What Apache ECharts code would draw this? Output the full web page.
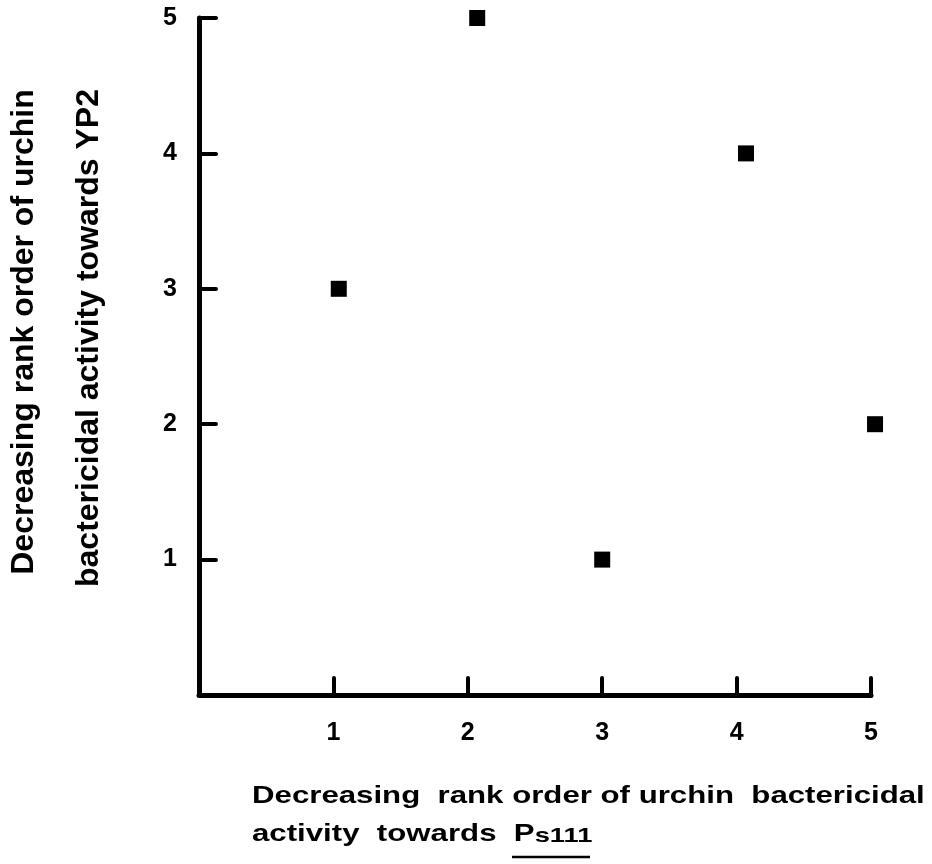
<!DOCTYPE html>
<html>
<head>
<meta charset="utf-8">
<script src="https://cdn.jsdelivr.net/npm/echarts@6/dist/echarts.min.js"></script>
<style>
html,body{margin:0;padding:0;background:#fff;}
#chart{width:932px;height:864px;}
</style>
</head>
<body>
<div id="chart"></div>
<script>
// Data
const rankPs111 = [1.04, 2.07, 3.0, 4.07, 5.03];   // x: rank towards Ps111
const rankYP2   = [3, 5, 1, 4, 2];                 // y: rank towards YP2
const tickValues = [1, 2, 3, 4, 5];
const yTitleLines = ['Decreasing rank order of urchin', 'bactericidal activity towards YP2'];
const xTitleLine1 = 'Decreasing  rank order of urchin  bactericidal';
const xTitleLine2 = 'activity  towards  ';

const points = rankPs111.map((x, i) => [x, rankYP2[i]]);

const chart = echarts.init(document.getElementById('chart'), null, {renderer: 'canvas'});

const axisCommon = {
  type: 'value',
  min: 0,
  max: 5,
  interval: 1,
  splitLine: {show: false},
  axisLine: {show: true, lineStyle: {color: '#000', width: 5, cap: 'round'}},
  axisTick: {show: true, inside: true, length: 17, lineStyle: {color: '#000', width: 4, cap: 'round'}},
  axisLabel: {
    color: '#000',
    fontFamily: 'Liberation Sans, Arial, sans-serif',
    fontWeight: 'bold',
    fontSize: 25,
    formatter: v => (tickValues.indexOf(v) >= 0 ? String(v) : '')
  }
};

const xFont = 'bold 24px "Liberation Sans", Arial, sans-serif';
const xScale = 1.30;

const option = {
  backgroundColor: '#fff',
  animation: false,
  grid: {left: 199, top: 18, right: 61, bottom: 169, containLabel: false},
  xAxis: Object.assign({}, axisCommon, {
    axisLabel: Object.assign({}, axisCommon.axisLabel, {margin: 26})
  }),
  yAxis: Object.assign({}, axisCommon, {
    axisLabel: Object.assign({}, axisCommon.axisLabel, {margin: 22})
  }),
  series: [{
    type: 'scatter',
    data: points,
    symbol: 'rect',
    symbolSize: 16,
    clip: false,
    itemStyle: {color: '#000', opacity: 1}
  }],
  graphic: [
    {
      type: 'text', x: 24, y: 332, rotation: Math.PI / 2,
      style: {text: yTitleLines[0], font: 'bold 32px "Liberation Sans", Arial, sans-serif',
              fill: '#000', textAlign: 'center', textVerticalAlign: 'middle'}
    },
    {
      type: 'text', x: 89, y: 338, rotation: Math.PI / 2,
      style: {text: yTitleLines[1], font: 'bold 32px "Liberation Sans", Arial, sans-serif',
              fill: '#000', textAlign: 'center', textVerticalAlign: 'middle'}
    },
    {
      type: 'text', x: 252, y: 796, scaleX: xScale,
      style: {text: xTitleLine1, font: xFont,
              fill: '#000', textAlign: 'left', textVerticalAlign: 'middle'}
    },
    {
      type: 'text', x: 252, y: 834, scaleX: xScale,
      style: {
        text: xTitleLine2 + '{p|P}{s|s111}',
        font: xFont,
        fill: '#000', textAlign: 'left', textVerticalAlign: 'middle',
        rich: {
          p: {fontSize: 24, fontWeight: 'bold', fontFamily: 'Liberation Sans, Arial, sans-serif', fill: '#000'},
          s: {fontSize: 21, fontWeight: 'bold', fontFamily: 'Liberation Sans, Arial, sans-serif', fill: '#000', padding: [5, 0, 0, 0]}
        }
      }
    },
    {
      type: 'line',
      shape: {x1: 512, y1: 857, x2: 590, y2: 857},
      style: {stroke: '#000', lineWidth: 2.5}
    }
  ]
};

chart.setOption(option);
</script>
</body>
</html>
